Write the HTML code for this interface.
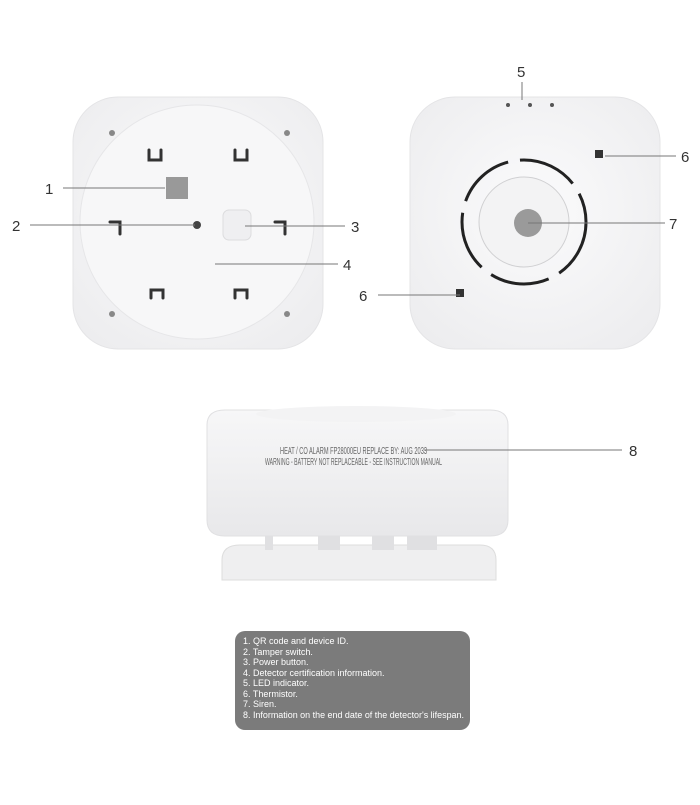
<!DOCTYPE html>
<html><head><style>
body{margin:0;background:#fff;width:700px;height:800px;overflow:hidden;font-family:"Liberation Sans",sans-serif}
</style></head><body>
<svg width="700" height="800" viewBox="0 0 700 800" xmlns="http://www.w3.org/2000/svg">
<defs>
<radialGradient id="g1" cx="50%" cy="45%" r="70%"><stop offset="0" stop-color="#fbfbfc"/><stop offset="1" stop-color="#ececee"/></radialGradient>
<linearGradient id="g2" x1="0" y1="0" x2="0" y2="1"><stop offset="0" stop-color="#f7f7f8"/><stop offset="1" stop-color="#e8e8ea"/></linearGradient>
</defs>
<!-- left device -->
<rect x="73" y="97" width="250" height="252" rx="45" fill="url(#g1)" stroke="#e4e4e6"/>
<circle cx="197" cy="222" r="117" fill="#f7f7f8" stroke="#e6e6e8"/>
<circle cx="112" cy="133" r="3" fill="#888"/><circle cx="287" cy="133" r="3" fill="#888"/>
<circle cx="112" cy="314" r="3" fill="#888"/><circle cx="287" cy="314" r="3" fill="#888"/>
<rect x="166" y="177" width="22" height="22" fill="#999"/>
<circle cx="197" cy="225" r="4" fill="#444"/>
<rect x="223" y="210" width="28" height="30" rx="6" fill="#efeff1" stroke="#dcdcde"/>
<g stroke="#333" stroke-width="3" fill="none" stroke-linecap="round">
<path d="M149 150 v10 h12 v-10"/><path d="M235 150 v10 h12 v-10"/>
<path d="M110 222 h10 v12"/><path d="M275 222 h10 v12"/>
<path d="M151 298 v-8 h12 v8"/><path d="M235 298 v-8 h12 v8"/>
</g>
<!-- right device -->
<rect x="410" y="97" width="250" height="252" rx="45" fill="url(#g1)" stroke="#e4e4e6"/>
<circle cx="524" cy="222" r="62" fill="none" stroke="#222" stroke-width="3" stroke-dasharray="60 12"/>
<circle cx="524" cy="222" r="45" fill="#f3f3f4" stroke="#d0d0d2"/>
<circle cx="528" cy="223" r="14" fill="#9a9a9a"/>
<circle cx="508" cy="105" r="2" fill="#555"/><circle cx="530" cy="105" r="2" fill="#555"/><circle cx="552" cy="105" r="2" fill="#555"/>
<rect x="456" y="289" width="8" height="8" fill="#333"/><rect x="595" y="150" width="8" height="8" fill="#333"/>
<!-- bottom device -->
<path d="M222 580 L222 560 Q222 545 240 545 L480 545 Q496 545 496 560 L496 580 Z" fill="#efeff0" stroke="#ddd"/>
<rect x="265" y="530" width="8" height="20" fill="#e0e0e2"/><rect x="318" y="530" width="22" height="20" fill="#e0e0e2"/>
<rect x="372" y="530" width="22" height="20" fill="#e0e0e2"/><rect x="407" y="530" width="30" height="20" fill="#e0e0e2"/>
<path d="M207 425 Q207 410 225 410 L490 410 Q508 410 508 425 L508 520 Q508 536 490 536 L225 536 Q207 536 207 520 Z" fill="url(#g2)" stroke="#e0e0e2"/>
<ellipse cx="356" cy="414" rx="100" ry="8" fill="#f3f3f4"/>
<text x="280" y="454" font-size="10" fill="#666" textLength="147" lengthAdjust="spacingAndGlyphs">HEAT / CO ALARM  FP28000EU  REPLACE BY: AUG 2033</text>
<text x="265" y="465" font-size="10" fill="#666" textLength="177" lengthAdjust="spacingAndGlyphs">WARNING - BATTERY NOT REPLACEABLE - SEE INSTRUCTION MANUAL</text>
<!-- leaders -->
<g stroke="#777" stroke-width="1">
<line x1="63" y1="188" x2="165" y2="188"/><line x1="30" y1="225" x2="195" y2="225"/>
<line x1="245" y1="226" x2="345" y2="226"/><line x1="215" y1="264" x2="338" y2="264"/>
<line x1="522" y1="82" x2="522" y2="100"/><line x1="605" y1="156" x2="676" y2="156"/>
<line x1="528" y1="223" x2="665" y2="223"/><line x1="378" y1="295" x2="460" y2="295"/>
<line x1="424" y1="450" x2="622" y2="450"/>
</g>
<g font-size="15" fill="#333">
<text x="45" y="194">1</text><text x="12" y="231">2</text><text x="351" y="232">3</text>
<text x="343" y="270">4</text><text x="517" y="77">5</text><text x="681" y="162">6</text>
<text x="669" y="229">7</text><text x="359" y="301">6</text><text x="629" y="456">8</text>
</g>
<!-- legend -->
<rect x="235" y="631" width="235" height="99" rx="10" fill="#7b7b7b"/>
<g font-size="9" fill="#fff">
<text x="243" y="644">1. QR code and device ID.</text>
<text x="243" y="655">2. Tamper switch.</text>
<text x="243" y="665">3. Power button.</text>
<text x="243" y="676">4. Detector certification information.</text>
<text x="243" y="686">5. LED indicator.</text>
<text x="243" y="697">6. Thermistor.</text>
<text x="243" y="707">7. Siren.</text>
<text x="243" y="718" textLength="221" lengthAdjust="spacingAndGlyphs">8. Information on the end date of the detector's lifespan.</text>
</g>
</svg>
</body></html>
